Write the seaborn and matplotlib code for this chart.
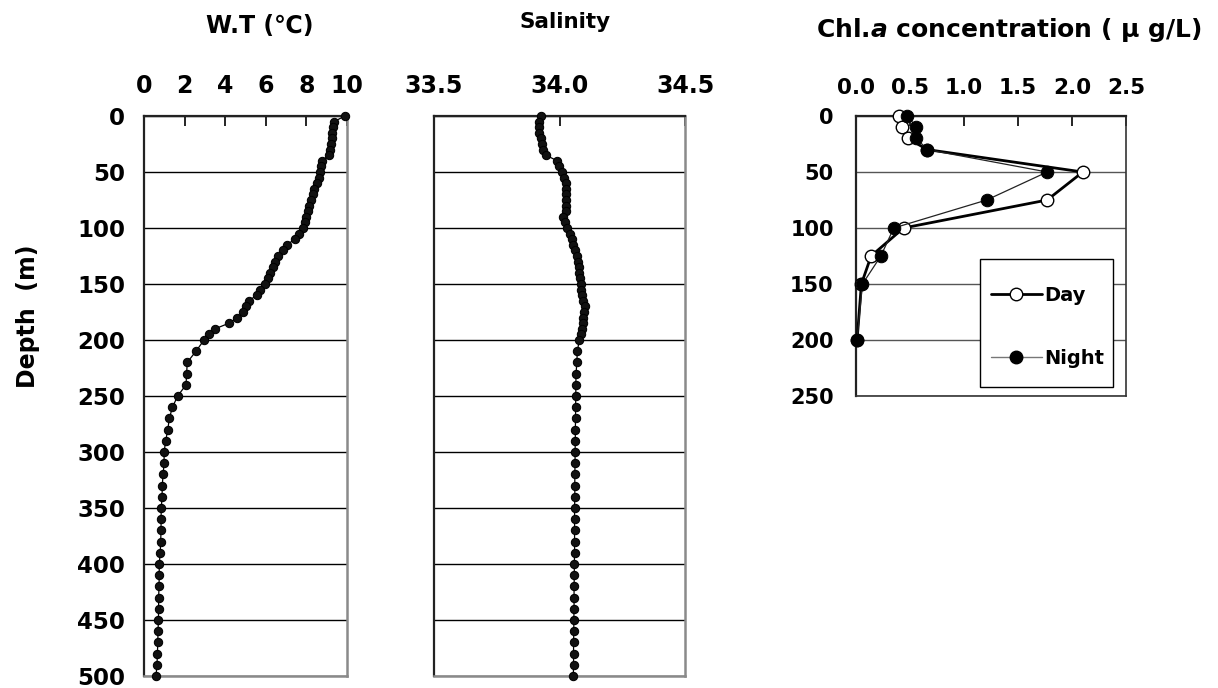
import numpy as np
import pandas as pd
import matplotlib
matplotlib.use("Agg")
import matplotlib.pyplot as plt
import seaborn as sns
from matplotlib.lines import Line2D
from matplotlib.patches import Rectangle

# ---------------- data ----------------
wt_depth = [0, 5, 10, 15, 20, 25, 30, 35, 40, 45, 50, 55, 60, 65, 70, 75, 80, 85, 90, 95,
            100, 105, 110, 115, 120, 125, 130, 135, 140, 145, 150, 155, 160, 165, 170, 175,
            180, 185, 190, 195, 200, 210, 220, 230, 240, 250, 260, 270, 280, 290, 300, 310,
            320, 330, 340, 350, 360, 370, 380, 390, 400, 410, 420, 430, 440, 450, 460, 470,
            480, 490, 500]
wt_temp = [9.90, 9.36, 9.29, 9.26, 9.24, 9.22, 9.16, 9.10, 8.78, 8.72, 8.67, 8.62, 8.51, 8.37,
           8.31, 8.23, 8.14, 8.06, 7.98, 7.93, 7.85, 7.65, 7.44, 7.03, 6.86, 6.62, 6.45, 6.34,
           6.21, 6.09, 5.96, 5.71, 5.55, 5.17, 5.02, 4.89, 4.60, 4.19, 3.50, 3.19, 2.96, 2.56,
           2.13, 2.10, 2.07, 1.66, 1.40, 1.25, 1.17, 1.07, 0.99, 0.99, 0.94, 0.90, 0.89, 0.85,
           0.84, 0.84, 0.82, 0.80, 0.75, 0.75, 0.74, 0.72, 0.72, 0.71, 0.69, 0.68, 0.66, 0.64,
           0.59]

sal_depth = wt_depth
sal_value = [33.926, 33.920, 33.920, 33.920, 33.925, 33.930, 33.935, 33.946, 33.991, 33.999,
             34.008, 34.018, 34.024, 34.026, 34.026, 34.024, 34.026, 34.024, 34.015, 34.020,
             34.031, 34.042, 34.048, 34.055, 34.062, 34.068, 34.072, 34.076, 34.079, 34.082,
             34.084, 34.087, 34.091, 34.095, 34.100, 34.098, 34.095, 34.092, 34.090, 34.087,
             34.079, 34.071, 34.069, 34.066, 34.065, 34.065, 34.064, 34.064, 34.063, 34.063,
             34.062, 34.062, 34.061, 34.061, 34.061, 34.060, 34.060, 34.060, 34.060, 34.060,
             34.059, 34.059, 34.058, 34.058, 34.058, 34.057, 34.057, 34.056, 34.056, 34.056,
             34.055]

chl_depth = [0, 10, 20, 30, 50, 75, 100, 125, 150, 200]
chl_day = [0.40, 0.43, 0.48, 0.66, 2.10, 1.77, 0.44, 0.14, 0.05, 0.01]
chl_night = [0.475, 0.56, 0.56, 0.66, 1.77, 1.21, 0.35, 0.23, 0.06, 0.01]

wt_ticks = [0, 2, 4, 6, 8, 10]
sal_ticks = [33.5, 34.0, 34.5]
chl_ticks = [0.0, 0.5, 1.0, 1.5, 2.0, 2.5]
depth_ticks = [0, 50, 100, 150, 200, 250, 300, 350, 400, 450, 500]
chl_depth_ticks = [0, 50, 100, 150, 200, 250]

# ---------------- style ----------------
sns.set_style("white")
plt.rcParams['font.family'] = ['DejaVu Sans']
plt.rcParams['font.weight'] = 'bold'
plt.rcParams['text.color'] = 'black'
plt.rcParams['axes.labelcolor'] = 'black'
plt.rcParams['xtick.color'] = 'black'
plt.rcParams['ytick.color'] = 'black'
plt.rcParams['mathtext.fontset'] = 'custom'
plt.rcParams['mathtext.it'] = 'DejaVu Sans:italic:bold'
plt.rcParams['mathtext.rm'] = 'DejaVu Sans:bold'

W, H = 1218, 688
fig = plt.figure(figsize=(W / 100, H / 100), dpi=100)
fig.patch.set_facecolor('white')

ax1 = fig.add_axes([144 / W, 1 - 676 / H, 203 / W, 560 / H])
ax2 = fig.add_axes([434 / W, 1 - 676 / H, 251 / W, 560 / H])
ax3 = fig.add_axes([856 / W, 1 - 396 / H, 270 / W, 280 / H])

wt_df = pd.DataFrame({'depth': wt_depth, 'temp': wt_temp})
sal_df = pd.DataFrame({'depth': sal_depth, 'sal': sal_value})
chl_df = pd.DataFrame({'depth': chl_depth, 'day': chl_day, 'night': chl_night})

dot_kw = dict(sort=False, estimator=None, marker='o', color='black', lw=0.9,
              markersize=6, markeredgecolor='black', markerfacecolor='#111111',
              clip_on=False, zorder=3)
sns.lineplot(data=wt_df, x='temp', y='depth', ax=ax1, **dot_kw)
sns.lineplot(data=sal_df, x='sal', y='depth', ax=ax2, **dot_kw)

sns.lineplot(data=chl_df, x='day', y='depth', ax=ax3, sort=False, estimator=None,
             marker='o', color='black', lw=2.0, markersize=9, markerfacecolor='white',
             markeredgecolor='black', markeredgewidth=1.0, clip_on=False, zorder=3)
sns.lineplot(data=chl_df, x='night', y='depth', ax=ax3, sort=False, estimator=None,
             marker='o', color='#222222', lw=0.9, markersize=9, markerfacecolor='black',
             markeredgecolor='black', clip_on=False, zorder=4)


def style_axis(ax, xlim, xticks, xfmt, ylim, yticks, show_ylabels, tick_fs, grid_color,
               ypad=13.5):
    ax.set_xlim(*xlim)
    ax.set_ylim(ylim[1], ylim[0])
    ax.xaxis.tick_top()
    ax.set_xticks(xticks)
    ax.set_xticklabels([xfmt.format(t) for t in xticks], fontsize=tick_fs, fontweight='bold')
    ax.set_yticks(yticks)
    if show_ylabels:
        ax.set_yticklabels([str(t) for t in yticks], fontsize=tick_fs - 0.5, fontweight='bold')
    else:
        ax.set_yticklabels([])
    ax.tick_params(axis='x', direction='in', length=7, width=1.2, pad=13, colors='black')
    ax.tick_params(axis='y', direction='in', length=6, width=1.2, pad=ypad, colors='black')
    ax.set_xlabel('')
    ax.set_ylabel('')
    ax.yaxis.grid(True, color=grid_color, lw=1.0)
    ax.xaxis.grid(False)
    ax.set_axisbelow(True)
    for s in ['left', 'top']:
        ax.spines[s].set_color('#222222')
        ax.spines[s].set_linewidth(1.6)
    for s in ['right', 'bottom']:
        ax.spines[s].set_color('#8a8a8a')
        ax.spines[s].set_linewidth(1.8)
        ax.spines[s].set_visible(True)


style_axis(ax1, (0, 10), wt_ticks, '{:g}', (0, 500), depth_ticks, True, 17, 'black')
style_axis(ax2, (33.5, 34.5), sal_ticks, '{:.1f}', (0, 500), depth_ticks, False, 17, 'black')
style_axis(ax3, (0, 2.5), chl_ticks, '{:.1f}', (0, 250), chl_depth_ticks, True, 15.5,
           '#555555', ypad=16)
for s in ['right', 'bottom']:
    ax3.spines[s].set_color('#333333')
    ax3.spines[s].set_linewidth(1.2)

# legend (frame drawn as a separate box, entries without frame)
handles = [
    Line2D([], [], color='black', lw=2.0, marker='o', markersize=9,
           markerfacecolor='white', markeredgecolor='black'),
    Line2D([], [], color='#777777', lw=1.0, marker='o', markersize=9,
           markerfacecolor='black', markeredgecolor='black'),
]
leg = ax3.legend(handles, ['Day', 'Night'], loc='upper left',
                 bbox_to_anchor=((991 - 856) / 270, 1 - (286 - 116) / 280),
                 borderaxespad=0, frameon=False,
                 prop={'weight': 'bold', 'size': 14}, labelspacing=2.25,
                 handlelength=2.6, handletextpad=0.15, borderpad=0)
ax3.add_patch(Rectangle(((980 - 856) / 270, 1 - (387 - 116) / 280),
                        (1113 - 980) / 270, (387 - 259) / 280,
                        transform=ax3.transAxes, facecolor='white', edgecolor='black',
                        lw=1.0, zorder=5, clip_on=False))
leg.set_zorder(6)

# titles and depth label
fig.text(260 / W, 1 - 26 / H, 'W.T (℃)', ha='center', va='center', fontsize=17,
         fontweight='bold')
fig.text(565 / W, 1 - 22 / H, 'Salinity', ha='center', va='center', fontsize=15.5,
         fontweight='bold')
fig.text(1009 / W, 1 - 30 / H, 'Chl.$\\it{a}$ concentration ( μ g/L)', ha='center',
         va='center', fontsize=18, fontweight='bold')
fig.text(28 / W, 1 - 316 / H, 'Depth  (m)', ha='center', va='center', rotation=90,
         fontsize=17, fontweight='bold')

fig.savefig('out.png', dpi=100, facecolor='white')
